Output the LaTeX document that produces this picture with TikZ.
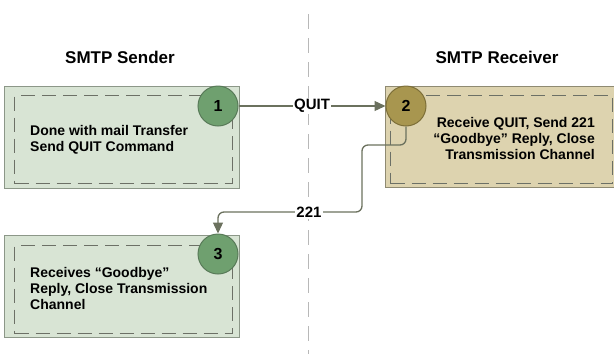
\documentclass[tikz,border=0pt]{standalone}
\usepackage{fontspec}
\setmainfont{Liberation Sans}
\usetikzlibrary{arrows.meta}
\definecolor{gfill}{HTML}{D8E4D4}
\definecolor{gedge}{HTML}{8C9788}
\definecolor{tfill}{HTML}{DDD3AF}
\definecolor{tedge}{HTML}{8F8A72}
\definecolor{gcirc}{HTML}{6FA06F}
\definecolor{gcircedge}{HTML}{587A58}
\definecolor{tcirc}{HTML}{A8964F}
\definecolor{tcircedge}{HTML}{7D6F38}
\definecolor{dashc}{HTML}{6C7066}
\definecolor{linec}{HTML}{6B715E}
\definecolor{sepc}{HTML}{B8B8B8}
\begin{document}
\begin{tikzpicture}[x=1pt,y=-1pt,
  panel/.style={draw, line width=1pt, minimum width=235pt, minimum height=102pt, anchor=north west, inner sep=0pt},
  innerbox/.style={draw=dashc, dash pattern=on 14pt off 7pt, line width=1.4pt, anchor=north west, inner sep=0pt},
  num/.style={circle, minimum size=40pt, inner sep=0pt, line width=1pt, font=\fontsize{16}{18}\selectfont\bfseries},
  body/.style={font=\fontsize{14}{16}\selectfont\bfseries, inner sep=0pt},
  head/.style={font=\fontsize{17}{20}\selectfont\bfseries, inner sep=0pt},
  conn/.style={draw=linec, line width=1.3pt, -{Triangle[length=11pt,width=10pt]}},
  lab/.style={fill=white, inner sep=1.5pt, font=\fontsize{15}{18}\selectfont\bfseries}
]
\useasboundingbox (0,0) rectangle (614,354);

% separator
\coordinate (sepTop) at (308,14);
\coordinate (sepBot) at (308,354);
\draw[sepc, line width=1pt, dash pattern=on 15pt off 9pt] (sepTop) -- (sepBot);

% headings
\node[head] (hS) at (120,57) {SMTP Sender};
\node[head] (hR) at (497,57) {SMTP Receiver};

% panels
\node[panel, draw=gedge, fill=gfill] (b1) at (4,86) {};
\node[innerbox, minimum width=218pt, minimum height=88pt] (i1) at (14,95) {};
\node[body, align=left, anchor=west] (t1) at (30,139.5) {Done with mail Transfer\\Send QUIT Command};

\node[panel, draw=tedge, fill=tfill, minimum width=229pt, minimum height=101pt] (b2) at (385,86) {};
\node[innerbox, minimum width=222pt, minimum height=88pt] (i2) at (390,95) {};
\node[body, align=right, anchor=east] (t2) at (595,138.5) {Receive QUIT, Send 221\\“Goodbye” Reply, Close\\Transmission Channel};

\node[panel, draw=gedge, fill=gfill] (b3) at (4,235) {};
\node[innerbox, minimum width=218pt, minimum height=88pt] (i3) at (14,245) {};
\node[body, align=left, anchor=west] (t3) at (30,288) {Receives “Goodbye”\\Reply, Close Transmission\\Channel};

% circles
\node[num, draw=gcircedge, fill=gcirc] (c1) at (218,106) {1};
\node[num, draw=tcircedge, fill=tcirc] (c2) at (406,106) {2};
\node[num, draw=gcircedge, fill=gcirc] (c3) at (218,254) {3};

% connectors
\draw[conn] (c1) -- node[lab] (qL) {QUIT} (c2);
\coordinate (k1) at (362,145);
\coordinate (k2) at (218,212);
\draw[conn, rounded corners=6pt] (c2.south) |- (k1) |- (k2) -- (c3.north);
\node[lab] (rL) at (309,212) {221};
\end{tikzpicture}
\end{document}
